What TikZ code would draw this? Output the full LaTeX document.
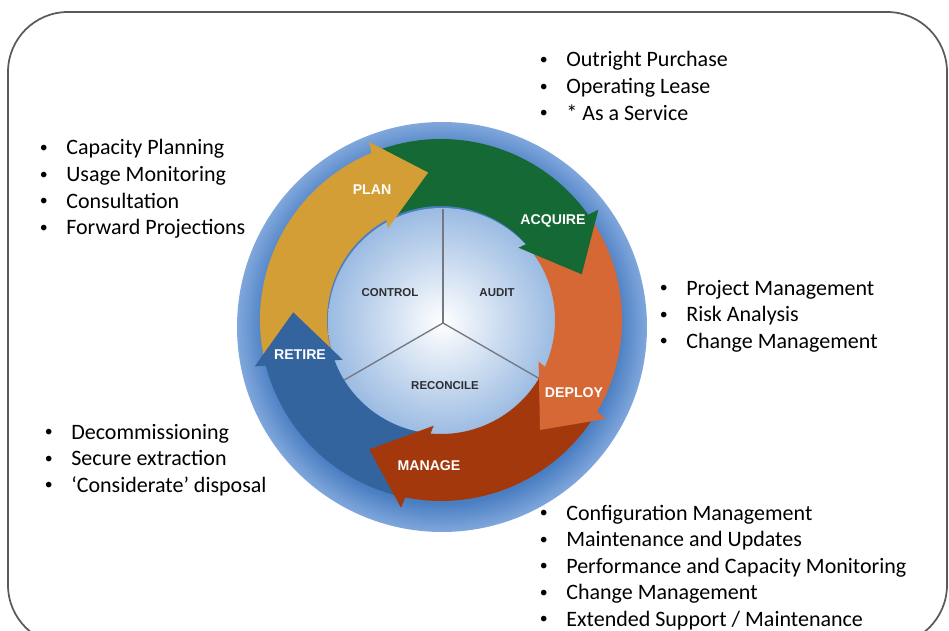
\documentclass[tikz,border=0pt]{standalone}
\usepackage{fontspec}
\setmainfont{Carlito}
\newfontfamily\arialfont{Liberation Sans}
\usepackage{graphicx}
\usepackage{xcolor}
\definecolor{plangold}{RGB}{212,158,54}
\definecolor{acquiregreen}{RGB}{20,105,52}
\definecolor{deployorange}{RGB}{214,104,54}
\definecolor{managered}{RGB}{163,56,12}
\definecolor{retireblue}{RGB}{52,100,158}
\definecolor{ringdark}{RGB}{74,126,194}
\definecolor{ringlight}{RGB}{128,167,220}
\definecolor{coreblue}{RGB}{155,187,226}
\definecolor{framegray}{RGB}{90,90,90}
\definecolor{labelgray}{RGB}{45,45,50}
\definecolor{spokegray}{RGB}{115,120,130}
\pgfdeclareradialshading{ringshade}{\pgfpoint{0bp}{0bp}}{color(0bp)=(ringdark); color(21.5bp)=(ringdark); color(25bp)=(ringlight); color(50bp)=(ringlight)}
\newcommand{\listdot}{\makebox[18.8pt][l]{\hspace{-1pt}\raisebox{0.1em}{\scalebox{0.72}{\textbullet}}}}

\begin{document}
\begin{tikzpicture}[x=0.75pt, y=0.75pt,
    bullets/.style={font=\fontsize{16.5}{19.9}\selectfont, inner sep=0pt, anchor=base west},
    phase/.style={font=\arialfont\bfseries\fontsize{10.6}{12}\selectfont, text=white, inner sep=0pt},
    corelabel/.style={font=\arialfont\bfseries\fontsize{8.6}{10}\selectfont, text=labelgray, inner sep=0pt},
    spoke/.style={draw=spokegray, line width=1}
]
\useasboundingbox (0,0) rectangle (949,-631);
\clip (0,0) rectangle (949,-631);

% Frame
\draw[framegray, line width=1.3, rounded corners=45] (8,-12) rectangle (947,-645);

% Outer ring and core
\shade[shading=ringshade] (442,-327) circle[radius=205];
\shade[inner color=white, outer color=coreblue] (442,-322) circle[radius=114];

% Spokes
\coordinate (hub) at (443,-323);
\draw[spoke] (hub) -- ++(90:114);
\draw[spoke] (hub) -- ++(210:114);
\draw[spoke] (hub) -- ++(330:114);

\node[corelabel] (control) at (390,-293) {CONTROL};
\node[corelabel] (audit) at (497,-293) {AUDIT};
\node[corelabel] (reconcile) at (445,-386) {RECONCILE};

% Cycle arrows
\begin{scope}[shift={(441,-320)}]
\foreach \s/\e/\c in {194/112/plangold, 112/35/acquiregreen, 35/-31/deployorange, -31/-102/managered, -102/-166/retireblue}
  \fill[\c] (\s:181) arc[start angle=\s, end angle=\e, radius=181] -- ({\e+6}:114) arc[start angle={\e+6}, end angle={\s+6}, radius=114] -- cycle;
\foreach \o/\c in {112/plangold, 35/acquiregreen, -31/deployorange, -102/managered, -166/retireblue}
  \fill[\c] (\o:192) -- ({\o-17}:148) -- ({\o+8}:106) -- cycle;
\end{scope}

\node[phase] (plan) at (372,-190) {PLAN};
\node[phase] (acquire) at (553,-221) {ACQUIRE};
\node[phase] (deploy) at (574,-393) {DEPLOY};
\node[phase] (manage) at (429,-466) {MANAGE};
\node[phase] (retire) at (300,-355) {RETIRE};

% Bullet lists
\node[bullets] (acquirelist) at (541,-67) {\begin{tabular}[t]{@{}l@{}}
  \listdot Outright Purchase\\
  \listdot Operating Lease\\
  \listdot * As a Service
\end{tabular}};
\node[bullets] (planlist) at (41,-155) {\begin{tabular}[t]{@{}l@{}}
  \listdot Capacity Planning\\
  \listdot Usage Monitoring\\
  \listdot Consultation\\
  \listdot Forward Projections
\end{tabular}};
\node[bullets] (deploylist) at (661,-295) {\begin{tabular}[t]{@{}l@{}}
  \listdot Project Management\\
  \listdot Risk Analysis\\
  \listdot Change Management
\end{tabular}};
\node[bullets] (retirelist) at (46,-439) {\begin{tabular}[t]{@{}l@{}}
  \listdot Decommissioning\\
  \listdot Secure extraction\\
  \listdot ‘Considerate’ disposal
\end{tabular}};
\node[bullets] (managelist) at (541,-520) {\begin{tabular}[t]{@{}l@{}}
  \listdot Configuration Management\\
  \listdot Maintenance and Updates\\
  \listdot Performance and Capacity Monitoring\\
  \listdot Change Management\\
  \listdot Extended Support / Maintenance
\end{tabular}};

\end{tikzpicture}
\end{document}
